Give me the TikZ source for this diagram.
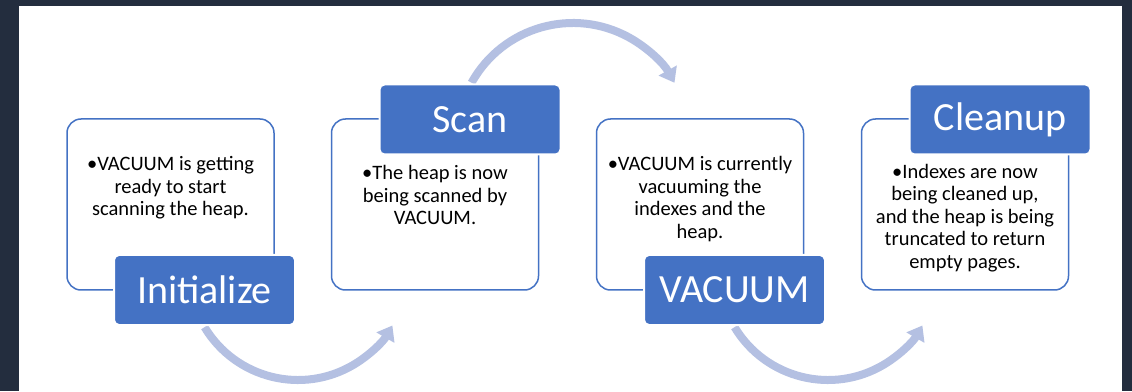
\documentclass[tikz,border=0pt]{standalone}
\usepackage{fontspec}
\setmainfont{Carlito}
\usetikzlibrary{arrows.meta,calc}
\definecolor{bgdark}{RGB}{35,45,62}
\definecolor{accent}{RGB}{68,114,196}
\definecolor{flow}{RGB}{180,192,226}
\begin{document}
\begin{tikzpicture}[x=1pt,y=1pt,
 panel/.style={draw=accent, line width=1.5pt, rounded corners=14pt, minimum width=207pt, minimum height=171pt, inner sep=0pt},
 stagelabel/.style={fill=accent, draw=white, line width=2pt, rounded corners=5pt, minimum width=181pt, minimum height=70pt, inner sep=0pt, text=white, font=\fontsize{40}{48}\selectfont},
 bodytext/.style={align=center, font=\fontsize{20.5}{22.5}\selectfont, inner sep=0pt},
 cyclearrow/.style={draw=flow, line width=8pt, -{Triangle[width=20pt,length=14pt]}}
]
\useasboundingbox (0,0) rectangle (1132,391);
\fill[bgdark] (0,0) rectangle (1132,391);
\fill[white] (19,0) rectangle (1122,385);
% arc centres
\coordinate (c1) at (298,120);
\coordinate (c2) at (573,252);
\coordinate (c3) at (828,120);
\draw[cyclearrow] ($(c1)+(211:109)$) arc[start angle=211,end angle=330,radius=109];
\draw[cyclearrow] ($(c2)+(151:116)$) arc[start angle=151,end angle=29,radius=116];
\draw[cyclearrow] ($(c3)+(211:109)$) arc[start angle=211,end angle=330,radius=109];
% panels
\node[panel] (box1) at (170.5,186.5) {};
\node[panel] (box2) at (435,186.5) {};
\node[panel] (box3) at (700,186.5) {};
\node[panel] (box4) at (965,186.5) {};
% labels
\node[stagelabel] (l1) at (204.5,101) {Initialize};
\node[stagelabel] (l2) at (470,271.5) {Scan};
\node[stagelabel] (l3) at (734.5,101) {VACUUM};
\node[stagelabel] (l4) at (1000,271.5) {Cleanup};
% texts
\node[bodytext] (t1) at (170.5,203) {•VACUUM is getting\\ready to start\\scanning the heap.};
\node[bodytext] (t2) at (435,196) {•The heap is now\\being scanned by\\VACUUM.};
\node[bodytext] (t3) at (700,192) {•VACUUM is currently\\vacuuming the\\indexes and the\\heap.};
\node[bodytext] (t4) at (965,173) {•Indexes are now\\being cleaned up,\\and the heap is being\\truncated to return\\empty pages.};
\end{tikzpicture}
\end{document}
